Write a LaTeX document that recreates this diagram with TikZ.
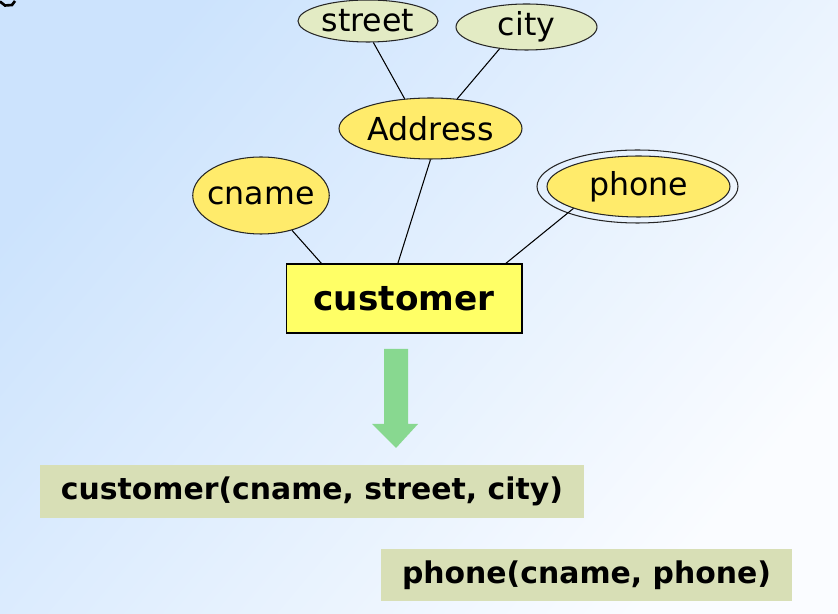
\documentclass[tikz,border=0pt]{standalone}
\usepackage{fontspec}
\setmainfont{DejaVu Sans}
\usepackage{tikz}
\usetikzlibrary{shapes.geometric}
\definecolor{bgA}{HTML}{CCE3FD}
\definecolor{bgD}{HTML}{FAFCFF}
\definecolor{attrYellow}{HTML}{FFEB6B}
\definecolor{attrPale}{HTML}{E3EBC4}
\definecolor{entityYellow}{HTML}{FFFF66}
\definecolor{relFill}{HTML}{D8DFB6}
\definecolor{arrowGreen}{HTML}{88D890}

\begin{document}
\begin{tikzpicture}[x=0.02cm, y=-0.02cm, line width=0.6pt,
  attr/.style={ellipse, draw=black!85, fill=#1, inner sep=0pt, font=\fontsize{18}{20}\selectfont},
  entity/.style={rectangle, draw=black, fill=entityYellow, inner sep=0pt, font=\fontsize{19.5}{22}\selectfont\bfseries},
  rel/.style={rectangle, fill=relFill, inner sep=0pt, font=\fontsize{17}{20}\selectfont\bfseries}]
\useasboundingbox (0,0) rectangle (838,614);
\shade[top color=bgA, bottom color=bgD, shading angle=50] (0,0) rectangle (838,614);
\draw[line width=1.5pt] (0,1.5) -- (5,5.5) -- (12,5) -- (15,1);
\node[attr=attrPale, minimum width=2.8cm, minimum height=0.84cm] (street) at (368,21) {street};
\node[attr=attrPale, minimum width=2.82cm, minimum height=0.92cm] (city) at (526.5,27) {city};
\node[attr=attrYellow, inner xsep=-2pt, minimum width=3.66cm, minimum height=1.22cm] (address) at (430.5,128.5) {Address};
\node[attr=attrYellow, inner xsep=-3pt, minimum width=2.56cm, minimum height=1.54cm] (cname) at (261,195.5) {cname};
\node[attr=none, fill=none, minimum width=4.02cm, minimum height=1.46cm] (phoneout) at (637.5,186.5) {};
\node[attr=attrYellow, minimum width=3.66cm, minimum height=1.22cm] (phone) at (638.5,186.5) {phone};
\node[entity, minimum width=4.72cm, minimum height=1.38cm] (customer) at (404,298.5) {customer};
\draw (street.-76) -- (address.131);
\draw (city.219) -- (address.48);
\draw (address.south) -- (customer.100);
\draw (cname) -- (customer.157);
\draw (phone.south west) -- (customer.19);
\fill[arrowGreen] (384,349) -- (408,349) -- (408,424) -- (418,424) -- (396,448) -- (372,424) -- (384,424) -- cycle;
\node[rel, minimum width=10.88cm, minimum height=1.06cm] (custrel) at (312,491.5) {customer(cname, street, city)};
\node[rel, minimum width=8.22cm, minimum height=1.04cm] (phonerel) at (586.5,575) {phone(cname, phone)};
\end{tikzpicture}
\end{document}
